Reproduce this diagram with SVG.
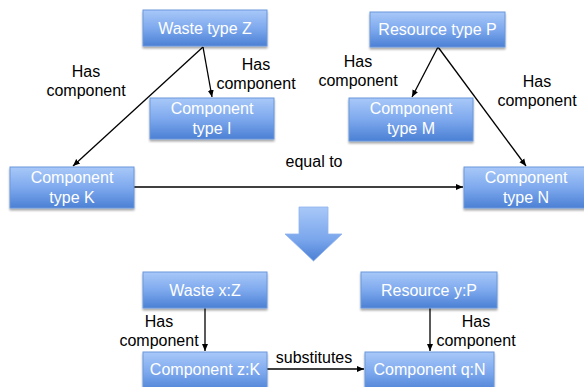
<svg xmlns="http://www.w3.org/2000/svg" width="584" height="387" viewBox="0 0 584 387">
<defs>
<linearGradient id="g" x1="0" y1="0" x2="0" y2="1">
<stop offset="0" stop-color="#a8c8f8"/>
<stop offset="0.5" stop-color="#7ea9ee"/>
<stop offset="1" stop-color="#4b80d4"/>
</linearGradient>
<linearGradient id="ga" x1="0" y1="0" x2="0" y2="1">
<stop offset="0" stop-color="#a8c8f8"/>
<stop offset="0.6" stop-color="#7aa6ec"/>
<stop offset="1" stop-color="#4b80d4"/>
</linearGradient>
<filter id="sh" x="-10%" y="-10%" width="130%" height="140%">
<feGaussianBlur in="SourceAlpha" stdDeviation="1.2"/>
<feOffset dx="0" dy="2" result="b"/>
<feComponentTransfer><feFuncA type="linear" slope="0.35"/></feComponentTransfer>
<feMerge><feMergeNode/><feMergeNode in="SourceGraphic"/></feMerge>
</filter>
<marker id="ah" markerWidth="8" markerHeight="8" refX="7" refY="4" orient="auto" markerUnits="userSpaceOnUse">
<path d="M0,1 L7,4 L0,7 z" fill="#000"/>
</marker>
</defs>
<style>
.box{fill:url(#g);stroke:#6b97dc;stroke-width:1;filter:url(#sh)}
.bt{font-family:"Liberation Sans",Arial,sans-serif;font-size:16px;fill:#ffffff;text-anchor:middle}
.lb{font-family:"Liberation Sans",Arial,sans-serif;font-size:16px;fill:#000;text-anchor:middle}
.cn{stroke:#000;stroke-width:1.3;fill:none;marker-end:url(#ah)}
</style>
<rect width="584" height="387" fill="#fff"/>

<g id="connectors">
<line class="cn" x1="203" y1="47" x2="73" y2="166"/>
<line class="cn" x1="203" y1="47" x2="212" y2="97"/>
<line class="cn" x1="438" y1="47" x2="412" y2="97"/>
<line class="cn" x1="438" y1="47" x2="526" y2="166"/>
<line class="cn" x1="134" y1="187" x2="463" y2="187"/>
<line class="cn" x1="205" y1="308" x2="205" y2="351"/>
<line class="cn" x1="430" y1="308" x2="430" y2="351"/>
<line class="cn" x1="267" y1="369" x2="364" y2="369"/>
</g>

<g id="labels">
<text class="lb" x="86" y="77">Has</text>
<text class="lb" x="86" y="96">component</text>
<text class="lb" x="256" y="70">Has</text>
<text class="lb" x="256" y="89">component</text>
<text class="lb" x="358" y="67">Has</text>
<text class="lb" x="358" y="86">component</text>
<text class="lb" x="537" y="87">Has</text>
<text class="lb" x="537" y="106">component</text>
<text class="lb" x="314" y="167">equal to</text>
<text class="lb" x="159" y="327">Has</text>
<text class="lb" x="159" y="346">component</text>
<text class="lb" x="314" y="363">substitutes</text>
<text class="lb" x="476" y="327">Has</text>
<text class="lb" x="476" y="346">component</text>
</g>

<g id="wasteZ"><rect class="box" x="143" y="10" width="124" height="36"/><text class="bt" x="205" y="34">Waste type Z</text></g>
<g id="compI"><rect class="box" x="150" y="98" width="124" height="41"/><text class="bt" x="212" y="114">Component</text><text class="bt" x="212" y="134">type I</text></g>
<g id="compK"><rect class="box" x="10" y="167" width="124" height="41"/><text class="bt" x="72" y="183">Component</text><text class="bt" x="72" y="203">type K</text></g>
<g id="resP"><rect class="box" x="370" y="12" width="135" height="35"/><text class="bt" x="437.5" y="35">Resource type P</text></g>
<g id="compM"><rect class="box" x="349" y="98" width="124" height="43"/><text class="bt" x="411" y="114">Component</text><text class="bt" x="411" y="134">type M</text></g>
<g id="compN"><rect class="box" x="464" y="167" width="124" height="41"/><text class="bt" x="526" y="183">Component</text><text class="bt" x="526" y="203">type N</text></g>

<g id="arrow"><path d="M299,207 L328,207 L328,234 L342,234 L313.5,261 L285,234 L299,234 Z" fill="url(#ga)" stroke="#8fb3ee" stroke-width="0.8"/></g>

<g id="wasteX"><rect class="box" x="143" y="272" width="124" height="36"/><text class="bt" x="205" y="296">Waste x:Z</text></g>
<g id="resY"><rect class="box" x="361" y="272" width="136" height="36"/><text class="bt" x="429" y="296">Resource y:P</text></g>
<g id="compZ"><rect class="box" x="143" y="352" width="124" height="40"/><text class="bt" x="205" y="375">Component z:K</text></g>
<g id="compQ"><rect class="box" x="365" y="352" width="129" height="40"/><text class="bt" x="429.5" y="375">Component q:N</text></g>
</svg>
